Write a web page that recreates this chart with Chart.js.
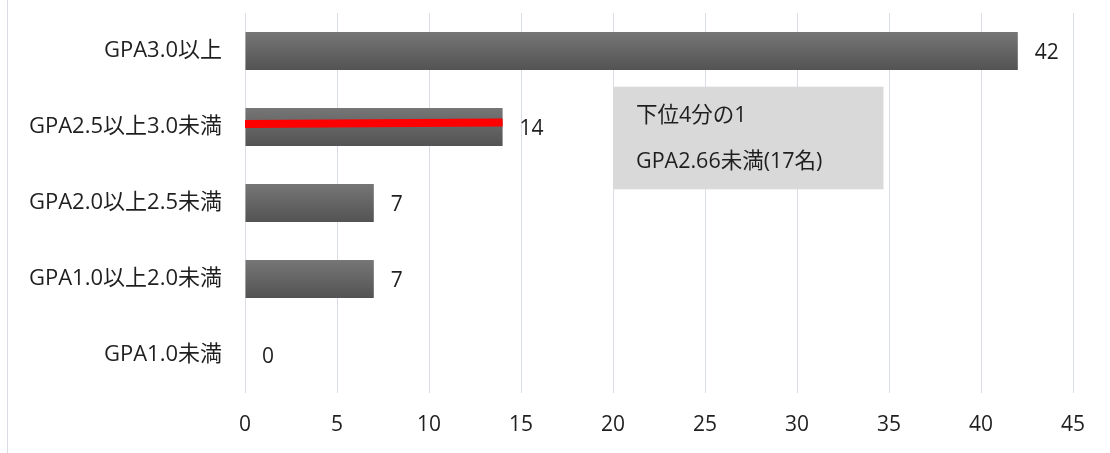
<!DOCTYPE html>
<html>
<head>
<meta charset="utf-8">
<script src="https://cdn.jsdelivr.net/npm/chart.js@4/dist/chart.umd.min.js"></script>
<style>
  html, body { margin: 0; padding: 0; background: #fff; }
  #wrap { position: relative; width: 1110px; height: 453px; }
  #wrap:before { content: ""; position: absolute; left: 7px; top: 0; bottom: 0; border-left: 1px solid #d9dde3; }
</style>
</head>
<body>
<div id="wrap"><canvas id="myChart" width="1110" height="453"></canvas></div>
<script>
var labels = ["GPA3.0以上", "GPA2.5以上3.0未満", "GPA2.0以上2.5未満", "GPA1.0以上2.0未満", "GPA1.0未満"];
var counts = [42, 14, 7, 7, 0];
// red marker across the 2.5-3.0 bar (x = count, y = category position)
var markerX = [0, 14];
var markerY = [1.46, 1.44];
var xTicks = [0, 5, 10, 15, 20, 25, 30, 35, 40, 45];
var noteLines = ["下位4分の1", "GPA2.66未満(17名)"];

var FONT = "'Open Sans', 'Noto Sans CJK JP', sans-serif";
var ctx = document.getElementById("myChart").getContext("2d");

function barFill(c) {
    var chart = c.chart;
    if (!chart.scales || !chart.scales.y || c.dataIndex === undefined) return "#666";
    var y = chart.scales.y.getPixelForValue(c.dataIndex);
    if (!isFinite(y)) return "#666";
    var g = chart.ctx.createLinearGradient(0, y - 19, 0, y + 19);
    g.addColorStop(0, "#767676");
    g.addColorStop(1, "#535353");
    return g;
}

var extras = {
    id: "extras",
    afterDatasetsDraw: function (chart) {
        var c = chart.ctx, sx = chart.scales.x, sy = chart.scales.y2;
        c.save();
        // value labels
        c.font = "21px " + FONT;
        c.fillStyle = "#1f1f1f";
        c.textBaseline = "middle";
        c.textAlign = "left";
        chart.getDatasetMeta(0).data.forEach(function (bar, i) {
            c.fillText(String(counts[i]), bar.x + 17, bar.y + 2);
        });
        // note box
        var x1 = sx.getPixelForValue(20), x2 = sx.getPixelForValue(34.7);
        var y1 = sy.getPixelForValue(0.97), y2 = sy.getPixelForValue(2.32);
        c.fillStyle = "#d9d9d9";
        c.fillRect(x1, y1, x2 - x1, y2 - y1);
        c.fillStyle = "#1f1f1f";
        c.font = "21.5px " + FONT;
        c.fillText(noteLines[0], x1 + 23, y1 + 29);
        c.fillText(noteLines[1], x1 + 23, y1 + 75);
        c.restore();
    }
};

var data = {
    labels: labels,
    datasets: [
        {
            type: "bar",
            indexAxis: "y",
            data: counts,
            xAxisID: "x",
            yAxisID: "y",
            backgroundColor: barFill,
            barPercentage: 1,
            categoryPercentage: 0.5,
            order: 2
        },
        {
            type: "line",
            data: markerX.map(function (v, i) { return { x: v, y: markerY[i] }; }),
            xAxisID: "x",
            yAxisID: "y2",
            borderColor: "#ff0000",
            borderWidth: 8,
            pointRadius: 0,
            fill: false,
            order: 1
        }
    ]
};

var myChart = new Chart(ctx, {
    data: data,
    plugins: [extras],
    options: {
        responsive: false,
        animation: false,
        layout: { padding: { left: 8, top: 13, right: 37, bottom: 0 } },
        plugins: { legend: { display: false }, tooltip: { enabled: false } },
        scales: {
            x: {
                type: "linear",
                axis: "x",
                position: "bottom",
                min: 0,
                max: 45,
                afterBuildTicks: function (s) { s.ticks = xTicks.map(function (v) { return { value: v }; }); },
                afterFit: function (s) { s.height = 60; s.paddingLeft = 0; s.paddingRight = 0; },
                grid: { color: "#d9dde6", lineWidth: 1, drawTicks: false },
                border: { display: false },
                ticks: { padding: 19, color: "#1f1f1f", font: { size: 21, family: FONT } }
            },
            y: {
                type: "category",
                axis: "y",
                position: "left",
                afterFit: function (s) { s.width = 237; s.paddingTop = 0; s.paddingBottom = 0; },
                grid: { display: false, drawTicks: false },
                border: { display: false },
                ticks: { padding: 23, color: "#1f1f1f", font: { size: 22, family: FONT } }
            },
            y2: {
                type: "linear",
                axis: "y",
                position: "left",
                display: false,
                min: 0,
                max: 5,
                reverse: true
            }
        }
    }
});
</script>
</body>
</html>
